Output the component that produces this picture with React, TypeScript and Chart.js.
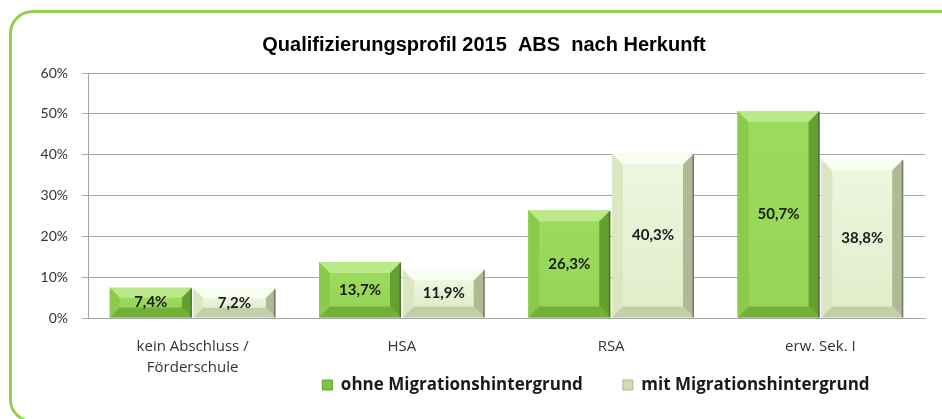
import React, { useEffect, useRef } from "react";
import { Chart, registerables } from "chart.js";

Chart.register(...registerables);

const titleText = "Qualifizierungsprofil 2015  ABS  nach Herkunft";
const categories: (string | string[])[] = [["kein Abschluss /", "Förderschule"], "HSA", "RSA", "erw. Sek. I"];
const seriesNames = ["ohne Migrationshintergrund", "mit Migrationshintergrund"];
const ohneValues = [7.4, 13.7, 26.3, 50.7];
const mitValues = [7.2, 11.9, 40.3, 38.8];
const yMin = 0;
const yMax = 60;
const yStep = 10;

const LEGEND_PAD = 40;
const LEGEND_FONT = 17;

const palettes = [
  { face: "#96d656", top: "#bbe98a", left: "#8acc4a", bottom: "#72b038", right: "#63a12e", legend: "#7fc443" },
  { face: "#e1edcb", top: "#fafdf1", left: "#dbe7c3", bottom: "#c2cfa8", right: "#adba94", legend: "#cfdcb5" },
];

const bevelPlugin = {
  id: "bevel",
  afterDatasetsDraw(chart: any) {
    const ctx = chart.ctx;
    chart.data.datasets.forEach((ds: any, i: number) => {
      const meta = chart.getDatasetMeta(i);
      const p = palettes[i];
      meta.data.forEach((bar: any) => {
        const { x, y, base, width } = bar.getProps(["x", "y", "base", "width"], true);
        const l = x - width / 2;
        const r = x + width / 2;
        const t = Math.min(y, base);
        const b = Math.max(y, base);
        const h = b - t;
        const bv = Math.min(11, h / 3);
        const poly = (pts: number[][], color: string) => {
          ctx.beginPath();
          ctx.moveTo(pts[0][0], pts[0][1]);
          for (let k = 1; k < pts.length; k++) ctx.lineTo(pts[k][0], pts[k][1]);
          ctx.closePath();
          ctx.fillStyle = color;
          ctx.fill();
        };
        ctx.save();
        const g = ctx.createLinearGradient(0, t + bv, 0, b - bv);
        g.addColorStop(0, i === 1 ? "#eef5de" : "#9bda5c");
        g.addColorStop(1, p.face);
        ctx.fillStyle = g;
        ctx.fillRect(l + bv, t + bv, width - 2 * bv, h - 2 * bv);
        poly([[l, t], [r, t], [r - bv, t + bv], [l + bv, t + bv]], p.top);
        poly([[l, t], [l + bv, t + bv], [l + bv, b - bv], [l, b]], p.left);
        poly([[r, t], [r - bv, t + bv], [r - bv, b - bv], [r, b]], p.right);
        poly([[l, b], [l + bv, b - bv], [r - bv, b - bv], [r, b]], p.bottom);
        ctx.fillStyle = "rgba(70,70,70,0.55)";
        ctx.fillRect(r - 1.5, t + 1, 1.5, h - 1);
        ctx.restore();
      });
    });
    ctx.save();
    ctx.font = "bold 15px Lato, 'Noto Sans', sans-serif";
    ctx.fillStyle = "#1a1a1a";
    ctx.textAlign = "center";
    ctx.textBaseline = "middle";
    chart.data.datasets.forEach((ds: any, i: number) => {
      const meta = chart.getDatasetMeta(i);
      meta.data.forEach((bar: any, j: number) => {
        const { x, y, base } = bar.getProps(["x", "y", "base"], true);
        const v = ds.data[j];
        ctx.fillText(v.toFixed(1).replace(".", ",") + "%", x, (y + base) / 2);
      });
    });
    ctx.restore();
  },
};

const framePlugin = {
  id: "frame",
  beforeDraw(chart: any) {
    const ctx = chart.ctx;
    ctx.save();
    ctx.fillStyle = "#ffffff";
    ctx.fillRect(0, 0, chart.width, chart.height);
    ctx.strokeStyle = "#92d050";
    ctx.lineWidth = 3;
    ctx.beginPath();
    (ctx as any).roundRect(10.5, 11.5, 960, 410, 22);
    ctx.stroke();
    ctx.restore();
  },
  afterLayout(chart: any) {
    const lg = chart.legend;
    if (lg) {
      const shift = 596 - (lg.left + lg.right) / 2;
      lg.left += shift;
      lg.right += shift;
      const h = lg.bottom - lg.top;
      lg.top = 385 - LEGEND_PAD - LEGEND_FONT / 2;
      lg.bottom = lg.top + h;
    }
    const tb = chart.titleBlock;
    if (tb) {
      const s = 484 - (tb.left + tb.right) / 2;
      tb.left += s;
      tb.right += s;
    }
  },
};

export default function App() {
  const ref = useRef<HTMLCanvasElement | null>(null);
  useEffect(() => {
    if (!ref.current) return;
    const chart = new Chart(ref.current, {
      type: "bar",
      data: {
        labels: categories,
        datasets: [
          { label: seriesNames[0], data: ohneValues, backgroundColor: palettes[0].face, barPercentage: 0.98, categoryPercentage: 0.8 },
          { label: seriesNames[1], data: mitValues, backgroundColor: palettes[1].face, barPercentage: 0.98, categoryPercentage: 0.8 },
        ],
      },
      options: {
        responsive: false,
        animation: false,
        layout: { padding: { left: 0, right: 17, top: 0, bottom: -28 } },
        plugins: {
          tooltip: { enabled: false },
          title: {
            display: true,
            text: titleText,
            color: "#000000",
            font: { family: "'Liberation Sans', sans-serif", size: 20, weight: "bold", lineHeight: 1.2 },
            padding: { top: 33, bottom: 16 },
          },
          legend: {
            position: "bottom",
            labels: {
              boxWidth: 10,
              boxHeight: 10,
              padding: LEGEND_PAD,
              color: "#1a1a1a",
              font: { family: "'Open Sans', 'Noto Sans', sans-serif", size: LEGEND_FONT, weight: "bold" },
              generateLabels: (c: any) =>
                c.data.datasets.map((ds: any, i: number) => ({
                  text: ds.label,
                  fillStyle: palettes[i].legend,
                  strokeStyle: palettes[i].right,
                  lineWidth: 1,
                  hidden: false,
                  datasetIndex: i,
                  fontColor: "#1a1a1a",
                })),
            },
          },
        },
        scales: {
          x: {
            grid: { display: false, drawTicks: false },
            border: { display: true, color: "#a6a6a6", width: 1 },
            ticks: {
              color: "#333333",
              padding: 19,
              font: { family: "'Open Sans', 'Noto Sans', sans-serif", size: 15, lineHeight: 1.35 },
            },
            afterFit: (s: any) => { s.height = 62; },
          },
          y: {
            min: yMin,
            max: yMax,
            grid: { color: "#a6a6a6", lineWidth: 1, tickLength: 6, drawTicks: true },
            border: { display: true, color: "#a6a6a6", width: 1 },
            ticks: {
              stepSize: yStep,
              padding: 14,
              color: "#333333",
              font: { family: "Lato, 'Noto Sans', sans-serif", size: 14 },
              callback: (v: any) => v + "%",
            },
            afterFit: (s: any) => { s.width = 88; },
          },
        },
      } as any,
      plugins: [framePlugin, bevelPlugin],
    });
    return () => chart.destroy();
  }, []);
  return (
    <div style={{ position: "fixed", left: 0, top: 0, width: 942, height: 419 }}>
      <canvas ref={ref} width={942} height={419} style={{ display: "block" }} />
    </div>
  );
}
